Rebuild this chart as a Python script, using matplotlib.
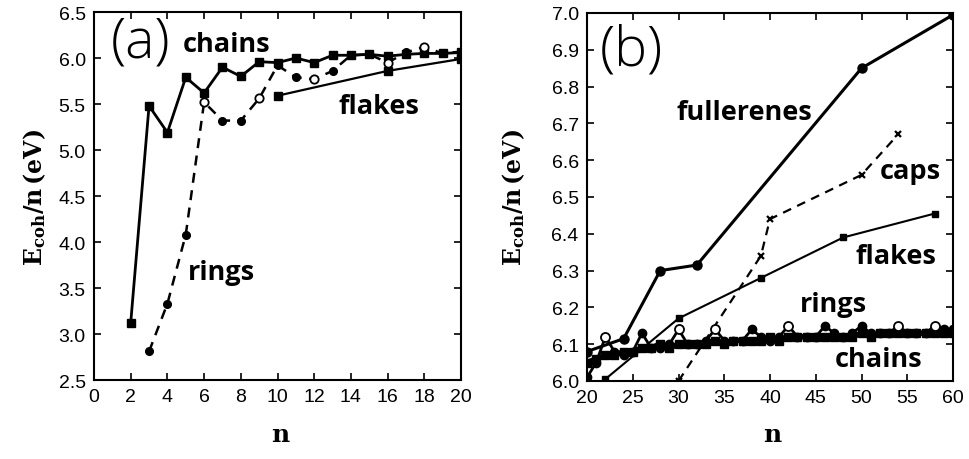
import numpy as np
import matplotlib
matplotlib.use('Agg')
import matplotlib.pyplot as plt

plt.rcParams['font.family'] = ['Liberation Sans', 'DejaVu Sans']
plt.rcParams['mathtext.fontset'] = 'dejavuserif'

# ---- panel (a): small clusters ----
n_a_chains = list(range(2, 21))
E_a_chains = [3.12, 5.48, 5.19, 5.79, 5.62, 5.90, 5.80, 5.96, 5.95, 6.00,
              5.95, 6.03, 6.03, 6.04, 6.02, 6.04, 6.05, 6.05, 6.06]
n_a_rings = list(range(3, 21))
E_a_rings = [2.81, 3.33, 4.08, 5.52, 5.32, 5.32, 5.56, 5.92, 5.79, 5.77,
             5.86, 6.03, 6.04, 5.95, 6.06, 6.12, 6.05, 6.07]
rings_a_open = [6, 9, 12, 16, 18]
n_a_flakes = [10, 16, 20]
E_a_flakes = [5.59, 5.86, 5.99]

# ---- panel (b): larger clusters ----
n_b_full = [20, 24, 28, 32, 50, 60]
E_b_full = [6.08, 6.115, 6.30, 6.315, 6.85, 6.995]
n_b_caps = [30, 39, 40, 50, 54]
E_b_caps = [6.00, 6.34, 6.44, 6.56, 6.67]
n_b_flakes = [22, 30, 39, 48, 58]
E_b_flakes = [6.005, 6.17, 6.28, 6.39, 6.455]
n_b_chains = list(range(20, 61))
E_b_chains = [6.05, 6.06, 6.07, 6.07, 6.08, 6.08, 6.09, 6.09, 6.10, 6.09,
              6.10, 6.10, 6.10, 6.10, 6.11, 6.10, 6.11, 6.11, 6.11, 6.11,
              6.12, 6.11, 6.12, 6.12, 6.12, 6.12, 6.12, 6.12, 6.12, 6.12,
              6.13, 6.12, 6.13, 6.13, 6.13, 6.13, 6.13, 6.13, 6.13, 6.13,
              6.13]
n_b_rings = list(range(20, 61))
E_b_rings = [6.01, 6.05, 6.12, 6.08, 6.07, 6.08, 6.13, 6.09, 6.09, 6.10,
             6.14, 6.10, 6.10, 6.11, 6.14, 6.11, 6.11, 6.11, 6.14, 6.12,
             6.11, 6.12, 6.15, 6.12, 6.12, 6.12, 6.15, 6.13, 6.12, 6.13,
             6.15, 6.13, 6.13, 6.13, 6.15, 6.13, 6.13, 6.13, 6.15, 6.14,
             6.14]
rings_b_open = [22, 30, 34, 42, 54, 58]

fig = plt.figure(figsize=(9.7, 4.6), dpi=100)
ax = fig.add_axes([0.0969, 0.1717, 0.3784, 0.80])
ax2 = fig.add_axes([0.6052, 0.1696, 0.3773, 0.80])


def rings_markers(axis, n, E, opened, ms):
    nf = [x for x in n if x not in opened]
    Ef = [e for x, e in zip(n, E) if x not in opened]
    no = [x for x in n if x in opened]
    Eo = [e for x, e in zip(n, E) if x in opened]
    axis.plot(nf, Ef, 'o', color='k', ms=ms, zorder=4)
    axis.plot(no, Eo, 'o', mfc='white', mec='k', mew=1.3, ms=ms + 0.5, zorder=5)


label_kw = dict(fontsize=19.5, family='Open Sans', fontweight='bold', va='center')
tag_kw = dict(fontsize=40, family='Open Sans', fontweight='light', va='center')

# panel (a)
ax.plot(n_a_chains, E_a_chains, 'k-s', lw=2, ms=5.5)
ax.plot(n_a_rings, E_a_rings, 'k--', lw=1.8, dashes=(4, 3))
rings_markers(ax, n_a_rings, E_a_rings, rings_a_open, 5.5)
ax.plot(n_a_flakes, E_a_flakes, 'k-s', lw=1.6, ms=5.5)

ax.set_xlim(0, 20)
ax.set_ylim(2.5, 6.5)
ax.set_xticks(np.arange(0, 21, 2))
ax.set_yticks(np.arange(2.5, 6.51, 0.5))
ax.yaxis.set_major_formatter(matplotlib.ticker.FormatStrFormatter('%.1f'))

ax.text(0.9, 6.17, '(a)', **tag_kw)
ax.text(4.85, 6.15, 'chains', **label_kw)
ax.text(13.3, 5.48, 'flakes', **label_kw)
ax.text(5.1, 3.67, 'rings', **label_kw)

# panel (b)
ax2.plot(n_b_full, E_b_full, 'k-o', lw=2.2, ms=6.5)
ax2.plot(n_b_caps, E_b_caps, 'k--x', lw=1.6, ms=5, mew=1.6, dashes=(4, 3))
ax2.plot(n_b_flakes, E_b_flakes, 'k-s', lw=1.5, ms=5)
ax2.plot(n_b_rings, E_b_rings, 'k-', lw=2, zorder=3)
rings_markers(ax2, n_b_rings, E_b_rings, rings_b_open, 6)
ax2.plot(n_b_chains, E_b_chains, 'k-s', lw=4, ms=6, zorder=4)

ax2.set_xlim(20, 60)
ax2.set_ylim(6.0, 7.0)
ax2.set_xticks(np.arange(20, 61, 5))
ax2.set_yticks(np.arange(6.0, 7.01, 0.1))
ax2.yaxis.set_major_formatter(matplotlib.ticker.FormatStrFormatter('%.1f'))

ax2.text(21.4, 6.90, '(b)', **tag_kw)
ax2.text(29.8, 6.73, 'fullerenes', **label_kw)
ax2.text(52.0, 6.57, 'caps', **label_kw)
ax2.text(49.3, 6.34, 'flakes', **label_kw)
ax2.text(43.3, 6.21, 'rings', **label_kw)
ax2.text(47.1, 6.06, 'chains', **label_kw)

for a in (ax, ax2):
    a.tick_params(direction='in', top=True, right=True, length=5, width=1.2,
                  labelsize=14, pad=6)
    for s in a.spines.values():
        s.set_linewidth(1.5)

ylab = r'$\mathbf{E_{coh}/n\,(eV)}$'
fig.text(0.036, 0.57, ylab, rotation=90, fontsize=17, ha='center', va='center')
fig.text(0.529, 0.57, ylab, rotation=90, fontsize=17, ha='center', va='center')
fig.text(0.289, 0.055, r'$\mathbf{n}$', fontsize=18, ha='center', va='center')
fig.text(0.797, 0.055, r'$\mathbf{n}$', fontsize=18, ha='center', va='center')

plt.savefig('out.png', dpi=100)
